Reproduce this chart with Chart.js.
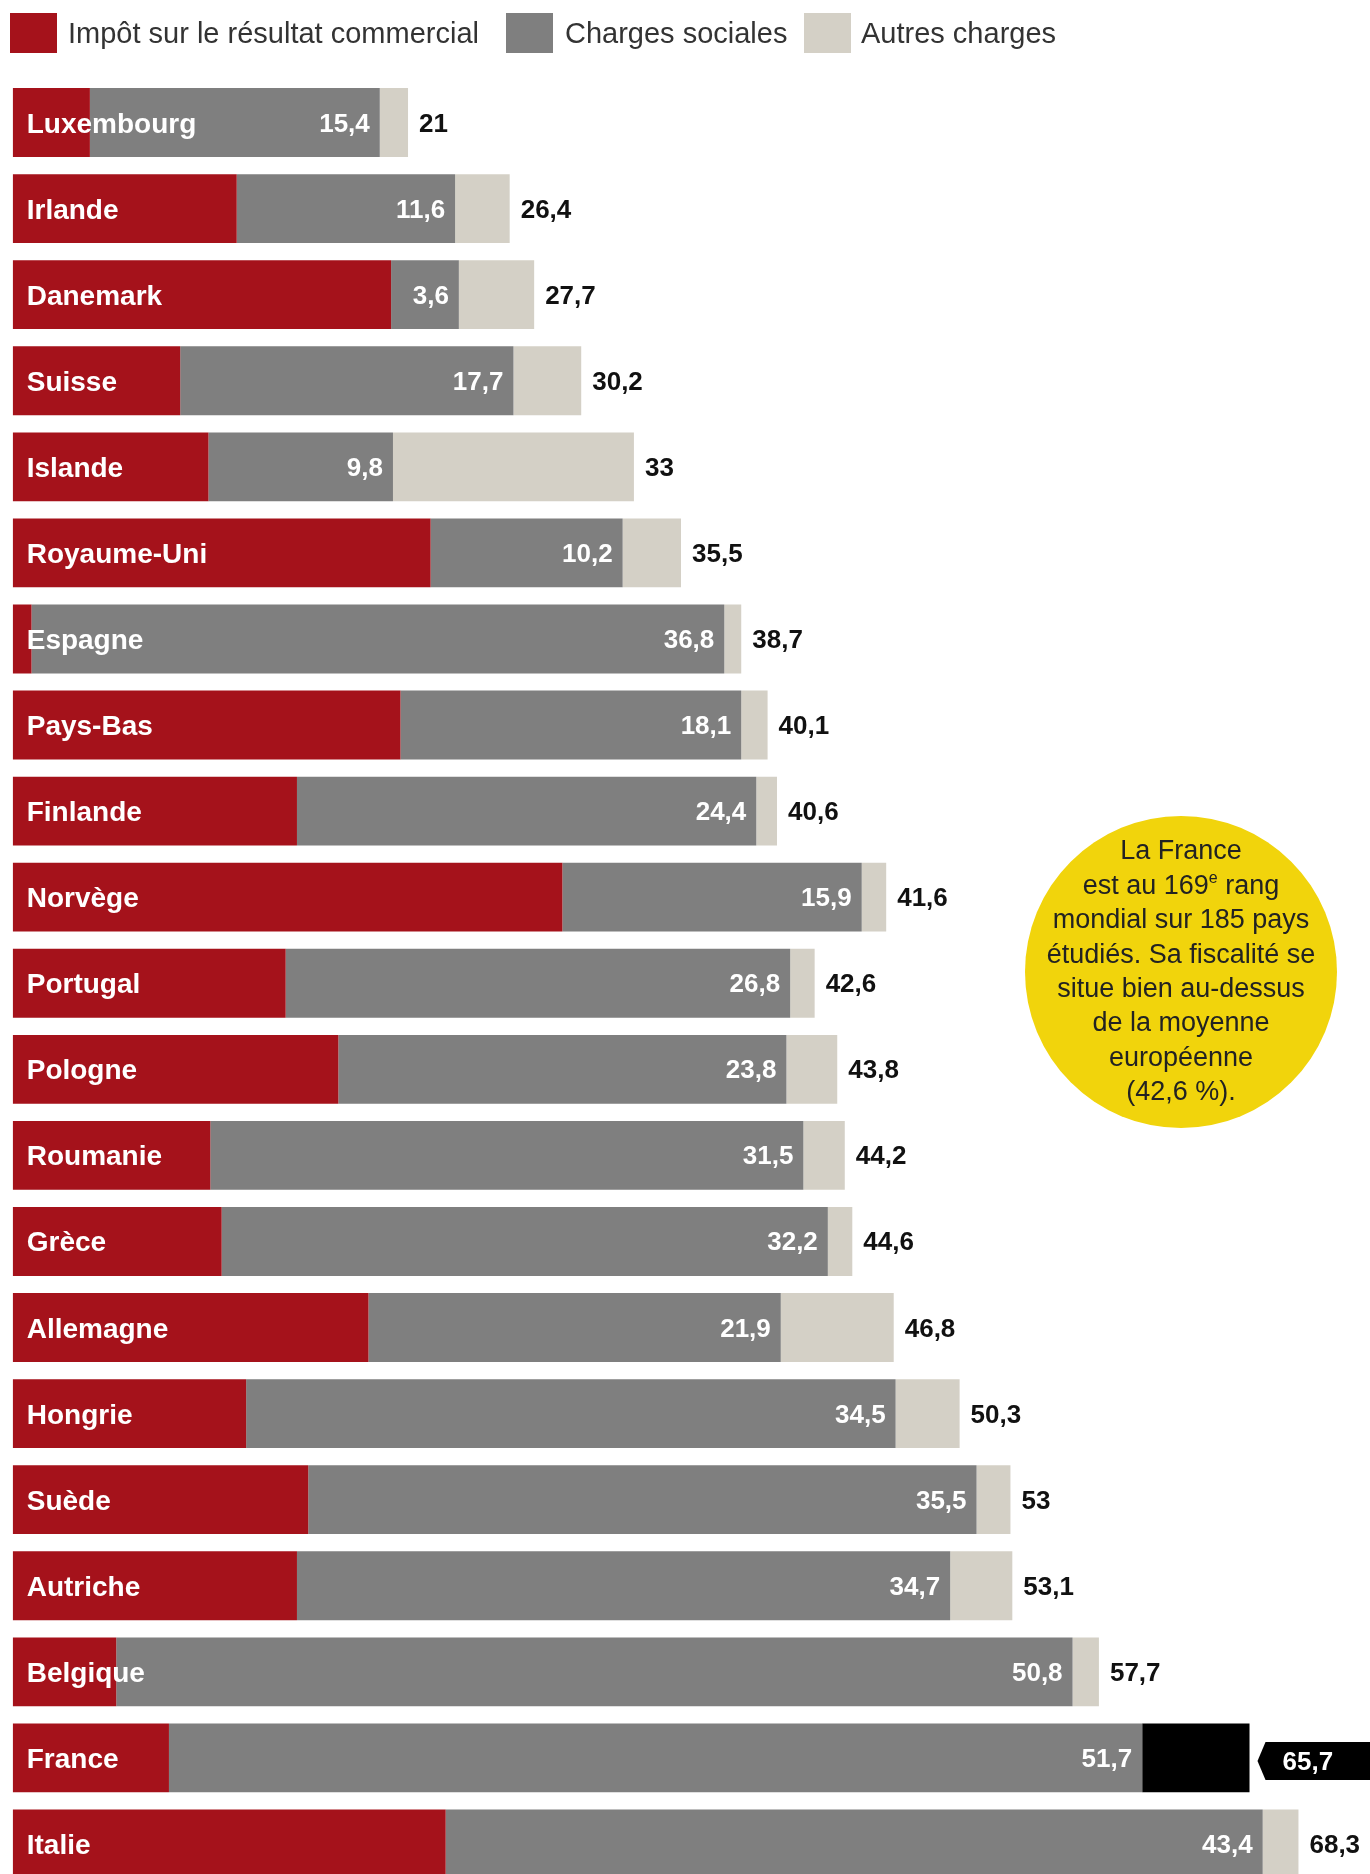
<!DOCTYPE html>
<html>
<head>
<meta charset="utf-8">
<script src="https://cdn.jsdelivr.net/npm/chart.js@4.4.0/dist/chart.umd.min.js"></script>
<style>
html, body { margin: 0; padding: 0; background: #fff; overflow: hidden; }
#wrap { position: relative; width: 1370px; height: 1874px; }
#chart { position: absolute; left: 0; top: 0; }
.legend { position: absolute; top: 13px; left: 0; width: 1370px; height: 40px;
  font-family: "Liberation Sans", Arial, sans-serif; font-size: 29px; color: #333; }
.legend .box { position: absolute; top: 0; width: 47px; height: 40px; }
.legend .txt { position: absolute; top: 0; line-height: 40px; white-space: nowrap; }
</style>
</head>
<body>
<div id="wrap">
  <canvas id="chart" width="1370" height="1890"></canvas>
  <div class="legend">
    <span class="box" style="left:10px;background:#a5121b"></span>
    <span class="txt" style="left:68px">Impôt sur le résultat commercial</span>
    <span class="box" style="left:506px;background:#7f7f7f"></span>
    <span class="txt" style="left:565px">Charges sociales</span>
    <span class="box" style="left:804px;background:#d4d0c6"></span>
    <span class="txt" style="left:861px">Autres charges</span>
  </div>
</div>
<script>
var pays = ["Luxembourg", "Irlande", "Danemark", "Suisse", "Islande", "Royaume-Uni", "Espagne",
  "Pays-Bas", "Finlande", "Norvège", "Portugal", "Pologne", "Roumanie", "Grèce", "Allemagne",
  "Hongrie", "Suède", "Autriche", "Belgique", "France", "Italie"];

var impot    = [4.1, 11.9, 20.1, 8.9, 10.4, 22.2, 1.0, 20.6, 15.1, 29.2, 14.5, 17.3, 10.5, 11.1, 18.9, 12.4, 15.7, 15.1, 5.5, 8.3, 23.0];
var sociales = [15.4, 11.6, 3.6, 17.7, 9.8, 10.2, 36.8, 18.1, 24.4, 15.9, 26.8, 23.8, 31.5, 32.2, 21.9, 34.5, 35.5, 34.7, 50.8, 51.7, 43.4];
var autres   = [1.5, 2.9, 4.0, 3.6, 12.8, 3.1, 0.9, 1.4, 1.1, 1.3, 1.3, 2.7, 2.2, 1.3, 6.0, 3.4, 1.8, 3.3, 1.4, 5.7, 1.9];
// totaux imprimés
var totaux   = ["21", "26,4", "27,7", "30,2", "33", "35,5", "38,7", "40,1", "40,6", "41,6", "42,6",
  "43,8", "44,2", "44,6", "46,8", "50,3", "53", "53,1", "57,7", "65,7", "68,3"];

var ROUGE = "#a5121b", GRIS = "#7f7f7f", BEIGE = "#d4d0c6";
var FONT = "'Liberation Sans', Arial, sans-serif";

var couleursAutres = pays.map(function(p){ return p === "France" ? "#000000" : BEIGE; });

function fmt(v){ return String(v).replace(".", ","); }

var etiquettes = {
  id: "etiquettes",
  afterDatasetsDraw: function(chart){
    var ctx = chart.ctx;
    var xs = chart.scales.x;
    var m0 = chart.getDatasetMeta(0).data;
    var m1 = chart.getDatasetMeta(1).data;
    var m2 = chart.getDatasetMeta(2).data;
    ctx.save();
    for (var i = 0; i < pays.length; i++) {
      var y = m0[i].y;
      // pays
      ctx.fillStyle = "#ffffff";
      ctx.font = "bold 28px " + FONT;
      ctx.textAlign = "left";
      ctx.textBaseline = "alphabetic";
      ctx.fillText(pays[i], xs.getPixelForValue(0) + 14, y + 10);
      // charges sociales
      ctx.font = "bold 26px " + FONT;
      ctx.textAlign = "right";
      ctx.fillText(fmt(sociales[i]), m1[i].x - 10, y + 9);
      // total
      var xe = m2[i].x;
      if (pays[i] === "France") {
        var x0 = xe + 8, yc = y + 3, h = 19;
        ctx.fillStyle = "#000";
        ctx.beginPath();
        ctx.moveTo(x0, yc);
        ctx.lineTo(x0 + 8, yc - h);
        ctx.lineTo(chart.width + 2, yc - h);
        ctx.lineTo(chart.width + 2, yc + h);
        ctx.lineTo(x0 + 8, yc + h);
        ctx.closePath();
        ctx.fill();
        ctx.fillStyle = "#fff";
        ctx.textAlign = "left";
        ctx.fillText(totaux[i], x0 + 25, yc + 9);
      } else {
        ctx.fillStyle = "#111";
        ctx.textAlign = "left";
        ctx.fillText(totaux[i], xe + 11, y + 9);
      }
    }
    ctx.restore();
  },
  afterDraw: function(chart){
    var ctx = chart.ctx;
    var cx = 1181, cy = 972, r = 156;
    ctx.save();
    ctx.fillStyle = "#f1d40c";
    ctx.beginPath();
    ctx.arc(cx, cy, r, 0, Math.PI * 2);
    ctx.fill();
    ctx.fillStyle = "#222";
    ctx.font = "27px " + FONT;
    ctx.textBaseline = "middle";
    ctx.textAlign = "center";
    var lignes = ["La France", null, "mondial sur 185 pays", "étudiés. Sa fiscalité se",
      "situe bien au-dessus", "de la moyenne", "européenne", "(42,6 %)."];
    for (var k = 0; k < lignes.length; k++) {
      var ly = 852 + k * 34.4;
      if (lignes[k] !== null) {
        ctx.fillText(lignes[k], cx, ly);
      } else {
        var a = "est au 169", e = "e", b = " rang";
        ctx.font = "27px " + FONT;
        var wa = ctx.measureText(a).width, wb = ctx.measureText(b).width;
        ctx.font = "16px " + FONT;
        var we = ctx.measureText(e).width;
        var sx = cx - (wa + we + wb) / 2;
        ctx.textAlign = "left";
        ctx.font = "27px " + FONT;
        ctx.fillText(a, sx, ly);
        ctx.font = "16px " + FONT;
        ctx.fillText(e, sx + wa, ly - 8);
        ctx.font = "27px " + FONT;
        ctx.fillText(b, sx + wa + we, ly);
        ctx.textAlign = "center";
      }
    }
    ctx.restore();
  }
};

var ctx = document.getElementById("chart");
var graph = new Chart(ctx, {
  type: "bar",
  data: {
    labels: pays,
    datasets: [
      { label: "Impôt sur le résultat commercial", data: impot, backgroundColor: ROUGE },
      { label: "Charges sociales", data: sociales, backgroundColor: GRIS },
      { label: "Autres charges", data: autres, backgroundColor: couleursAutres }
    ]
  },
  options: {
    indexAxis: "y",
    responsive: false,
    animation: false,
    devicePixelRatio: 1,
    layout: { padding: { left: 12.7, right: 0, top: 79.5, bottom: 3 } },
    datasets: { bar: { categoryPercentage: 1, barPercentage: 0.8, borderWidth: 0 } },
    scales: {
      x: { stacked: true, min: 0, max: 72.1, display: false },
      y: { stacked: true, display: false }
    },
    plugins: { legend: { display: false }, tooltip: { enabled: false } }
  },
  plugins: [etiquettes]
});
</script>
</body>
</html>
